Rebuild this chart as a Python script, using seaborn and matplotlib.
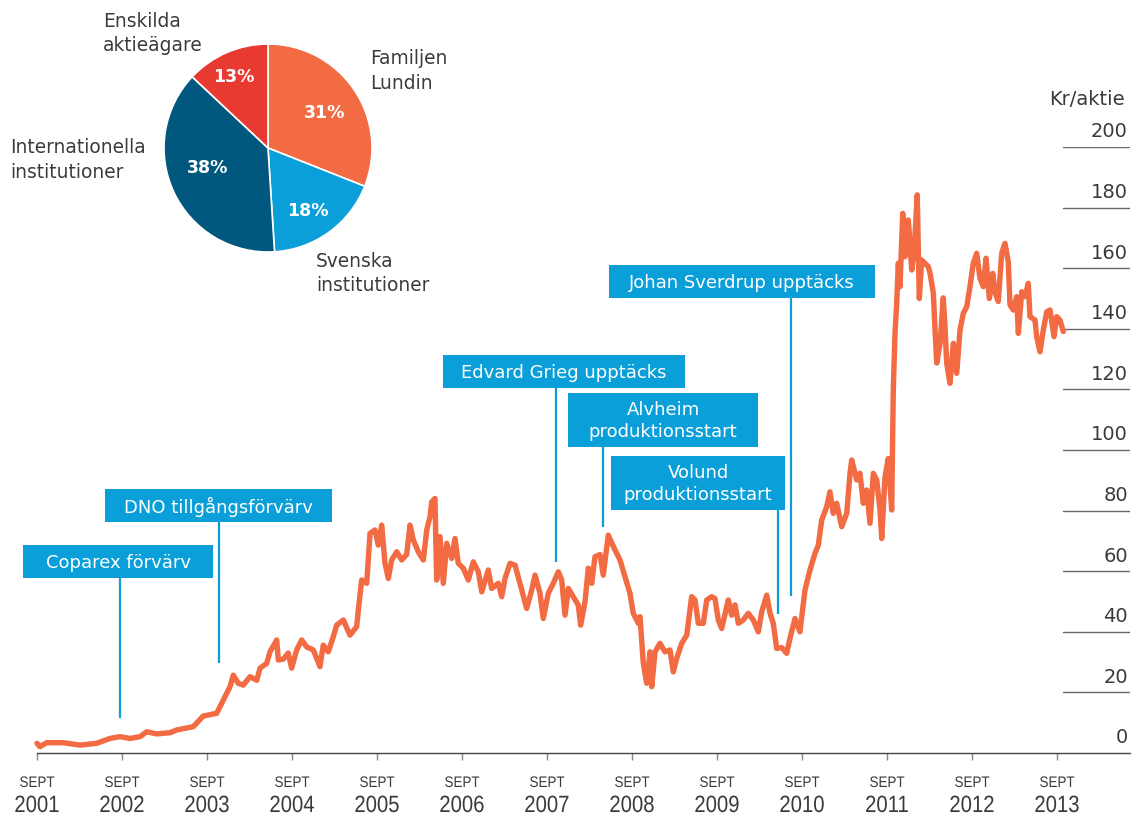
import matplotlib
matplotlib.use("Agg")
import matplotlib.pyplot as plt
import seaborn as sns
import pandas as pd
from matplotlib.patches import Rectangle
from matplotlib.transforms import blended_transform_factory, Affine2D
from matplotlib.patheffects import AbstractPathEffect

# ---------------- data ----------------
dates = [
    2001.667, 2001.702, 2001.781, 2001.976, 2002.173, 2002.369, 2002.526, 2002.643, 2002.761, 2002.879,
    2002.958, 2003.075, 2003.232, 2003.311, 2003.506, 2003.623, 2003.781, 2003.859, 2003.938, 2003.976,
    2004.035, 2004.094, 2004.173, 2004.252, 2004.291, 2004.369, 2004.408, 2004.487, 2004.506, 2004.565,
    2004.623, 2004.663, 2004.722, 2004.781, 2004.840, 2004.918,
    2004.996, 2005.035, 2005.094, 2005.153, 2005.193, 2005.271, 2005.349, 2005.428, 2005.447, 2005.487,
    2005.546, 2005.585, 2005.643, 2005.682, 2005.722, 2005.761, 2005.800, 2005.840, 2005.899, 2005.958,
    2006.016, 2006.055, 2006.094, 2006.153, 2006.212, 2006.252, 2006.291, 2006.311, 2006.349, 2006.369,
    2006.408, 2006.447, 2006.487, 2006.546, 2006.585, 2006.623, 2006.682, 2006.741, 2006.800, 2006.859,
    2006.899, 2006.976, 2007.016, 2007.094, 2007.134, 2007.173, 2007.232, 2007.291, 2007.349, 2007.428,
    2007.487, 2007.526, 2007.585, 2007.623, 2007.682, 2007.741, 2007.800, 2007.840, 2007.879, 2007.918,
    2007.976, 2008.035, 2008.063, 2008.114, 2008.153, 2008.193, 2008.232, 2008.291,
    2008.329, 2008.388, 2008.467, 2008.526, 2008.585, 2008.643, 2008.682, 2008.741, 2008.761, 2008.800,
    2008.840, 2008.879, 2008.899, 2008.938, 2008.996, 2009.055, 2009.114, 2009.153, 2009.193, 2009.252,
    2009.311, 2009.369, 2009.408, 2009.447, 2009.506, 2009.546, 2009.605, 2009.643, 2009.682, 2009.722,
    2009.800, 2009.840, 2009.879, 2009.918, 2009.976, 2010.035, 2010.094, 2010.153, 2010.193, 2010.252,
    2010.291, 2010.329, 2010.369, 2010.428, 2010.487, 2010.526, 2010.585, 2010.643, 2010.702, 2010.761,
    2010.820, 2010.859, 2010.899, 2010.958, 2010.996, 2011.035, 2011.075, 2011.134, 2011.193, 2011.232,
    2011.252, 2011.311,
    2011.349, 2011.388, 2011.428, 2011.467, 2011.506, 2011.546, 2011.585, 2011.605, 2011.643, 2011.682,
    2011.722, 2011.741, 2011.761, 2011.781, 2011.800, 2011.820, 2011.852, 2011.879, 2011.918, 2011.958,
    2011.985, 2012.023, 2012.047, 2012.075, 2012.114, 2012.153,
    2012.173, 2012.212, 2012.232, 2012.252, 2012.291, 2012.329, 2012.349, 2012.369, 2012.408, 2012.447,
    2012.487, 2012.526, 2012.565, 2012.605, 2012.643, 2012.682, 2012.722, 2012.761, 2012.800, 2012.832,
    2012.871, 2012.911, 2012.938, 2012.976, 2013.016, 2013.055, 2013.094, 2013.114, 2013.153, 2013.193,
    2013.212, 2013.252, 2013.291, 2013.329, 2013.349, 2013.408, 2013.428, 2013.467, 2013.506, 2013.546,
    2013.585, 2013.632, 2013.663, 2013.702, 2013.741,
]
prices = [
    3.2, 2.1, 3.4, 3.4, 2.6, 3.2, 4.8, 5.4, 4.8, 5.4,
    7.0, 6.3, 6.7, 7.6, 8.7, 12.2, 13.1, 17.5, 21.9, 25.7,
    23.0, 22.4, 25.2, 24.0, 28.0, 29.6, 33.4, 37.3, 30.7, 31.0,
    33.0, 28.0, 34.0, 37.3, 35.0, 34.0,
    28.5, 35.6, 33.4, 38.4, 42.2, 43.9, 38.9, 41.7, 47.2, 57.1,
    56.0, 72.5, 73.6, 68.6, 75.2, 62.6, 57.6, 63.7, 66.4, 63.7,
    65.5, 75.2, 70.3, 66.4, 63.7, 73.6, 78.0, 82.9, 84.0, 57.1,
    71.4, 56.0, 69.2, 64.2, 70.8, 62.6, 61.0, 57.1, 63.1, 59.8,
    53.2, 60.4, 54.3, 56.0, 51.6, 57.6, 62.6, 62.0, 56.0, 47.7,
    53.8, 58.7, 52.7, 44.4, 52.7, 56.0, 59.8, 57.1, 45.5, 54.3,
    51.6, 48.8, 42.2, 49.9, 61.0, 56.0, 64.8, 65.5,
    58.7, 71.9, 67.0, 63.7, 58.2, 52.7, 46.1, 42.8, 45.0, 29.6,
    23.0, 33.4, 21.9, 33.4, 36.2, 33.4, 34.0, 26.8, 31.2, 36.2,
    38.9, 51.6, 50.5, 42.8, 42.8, 50.5, 51.6, 51.0, 43.9, 41.1,
    50.5, 45.5, 48.9, 42.8, 43.9, 46.1, 43.9, 40.0, 46.6, 52.1,
    46.1, 42.8, 34.5, 34.8, 32.9, 37.9, 44.4, 40.0, 53.8, 60.4,
    65.9, 68.6, 76.9, 81.3, 86.2, 79.1, 82.4, 74.7, 79.1, 92.3,
    96.7, 90.1,
    92.3, 82.4, 86.8, 75.8, 92.3, 90.1, 80.2, 70.8, 91.0, 97.2,
    80.2, 119.8, 138.5, 148.4, 161.6, 153.9, 178.1, 163.8, 175.9, 159.4,
    165.0, 184.2, 150.0, 162.7, 161.6, 160.5,
    158.4, 151.8, 139.6, 128.7, 135.0, 150.2, 141.0, 128.7, 122.0, 135.2,
    125.3, 139.6, 145.1, 147.3, 153.9, 161.6, 164.9, 156.7, 153.9, 163.3,
    150.0, 158.3, 152.0, 149.0, 164.9, 168.2, 162.0, 147.9, 146.2, 150.6,
    138.5, 152.2, 150.6, 155.0, 144.0, 142.9, 137.4, 132.4, 139.6, 145.6,
    146.2, 137.4, 144.0, 142.9, 139.1,
]

owner_labels = ["Familjen\nLundin", "Svenska\ninstitutioner",
                "Internationella\ninstitutioner", "Enskilda\naktieägare"]
owner_shares = [31, 18, 38, 13]

event_labels = ["Coparex förvärv", "DNO tillgångsförvärv", "Edvard Grieg upptäcks",
                "Alvheim\nproduktionsstart", "Volund\nproduktionsstart", "Johan Sverdrup upptäcks"]
event_dates = [2002.643, 2003.808, 2007.773, 2008.326, 2010.385, 2010.538]
event_levels = [11.6, 29.7, 63.0, 74.6, 45.9, 51.8]

tick_years = list(range(2001, 2014))
y_ticks = list(range(0, 201, 20))
y_unit = "Kr/aktie"

# ---------------- style / layout ----------------
ORANGE = "#f26b43"
BLUE = "#0a9fd8"
DARKBLUE = "#00587f"
RED = "#e93a31"
TXT = "#3a3a3a"
GRID = "#6a6a6a"


class HScale(AbstractPathEffect):
    """Condense glyphs horizontally around their own centre."""
    def __init__(self, sx):
        super().__init__()
        self.sx = sx

    def draw_path(self, renderer, gc, tpath, affine, rgbFace=None):
        v = tpath.vertices
        cx = (v[:, 0].min() + v[:, 0].max()) / 2 if len(v) else 0.0
        t = Affine2D().translate(-cx, 0).scale(self.sx, 1).translate(cx, 0) + affine
        renderer.draw_path(gc, tpath, t, rgbFace)


sns.set_theme(style="white")
plt.rcParams["font.family"] = ["DejaVu Sans"]

W, H = 1133, 818
fig = plt.figure(figsize=(W / 100, H / 100), dpi=100)
fig.patch.set_facecolor("white")

# main axes: pixel x 20..1130, pixel y 753 (0) .. 147 (200)
ax = fig.add_axes([20 / W, (H - 753) / H, 1110 / W, 606 / H])
ax.set_facecolor("none")
df = pd.DataFrame({"date": dates, "price": prices})
sns.lineplot(data=df, x="date", y="price", ax=ax, color=ORANGE, linewidth=3.9,
             estimator=None, sort=False, zorder=3)
ln = ax.lines[0]
ln.set_solid_joinstyle("round")
ln.set_solid_capstyle("round")

x0 = 2001.667
ax.set_xlim(x0 - 0.2, x0 - 0.2 + 1110 / 85)
ax.set_ylim(0, 200)
ax.set_xlabel("")
ax.set_ylabel("")
for s in ["top", "right", "left"]:
    ax.spines[s].set_visible(False)
ax.spines["bottom"].set_color("#444444")
ax.spines["bottom"].set_linewidth(1.0)
ax.spines["bottom"].set_bounds(x0, ax.get_xlim()[1])

sept_pos = [y + 0.667 for y in tick_years]
ax.set_xticks(sept_pos)
ax.set_xticklabels([])
ax.set_yticks([])
ax.tick_params(axis="x", direction="out", length=5, width=1, color="#888888", bottom=True)

tx = blended_transform_factory(ax.transData, ax.transAxes)
for yr, pos in zip(tick_years, sept_pos):
    ax.text(pos, -0.0495, "SEPT", transform=tx, ha="center", va="center",
            fontsize=11, family="Liberation Sans", color=TXT, path_effects=[HScale(0.88)])
    ax.text(pos, -0.0875, str(yr), transform=tx, ha="center", va="center",
            fontsize=17, family="Liberation Sans", color=TXT, path_effects=[HScale(0.86)])

ty = blended_transform_factory(ax.transAxes, ax.transData)
gx0 = (1063 - 20) / 1110
for v in y_ticks:
    if v > 0:
        ax.axhline(v, xmin=gx0, xmax=1.0, color=GRID, lw=1.0, zorder=1)
    ax.text((1128 - 20) / 1110, v + 5, str(v), transform=ty, ha="right", va="center",
            fontsize=14, color=TXT, clip_on=False)
ax.text((1125 - 20) / 1110, 215.8, y_unit, transform=ty, ha="right", va="center",
        fontsize=14, color=TXT, clip_on=False)

# ---------------- event annotations ----------------
event_boxes = [(23, 545, 213, 578), (105, 489, 332, 522), (443, 355, 685, 388),
               (568, 393, 758, 447), (611, 456, 785, 510), (609, 265, 875, 298)]
inv = ax.transData.inverted()
tops = [inv.transform((0, H - b[3]))[1] for b in event_boxes]
ax.vlines(event_dates, event_levels, tops, color=BLUE, lw=1.6, zorder=2)

ov = fig.add_axes([0, 0, 1, 1])
ov.set_xlim(0, W)
ov.set_ylim(H, 0)
ov.set_facecolor("none")
ov.axis("off")
for (bx0, by0, bx1, by1), lab in zip(event_boxes, event_labels):
    ov.add_patch(Rectangle((bx0, by0), bx1 - bx0, by1 - by0, facecolor=BLUE, edgecolor="none"))
    ov.text((bx0 + bx1) / 2, (by0 + by1) / 2 + 1, lab, ha="center", va="center",
            fontsize=13, color="white", linespacing=1.35)

# ---------------- pie ----------------
cx, cy, r = 268, 148, 104
half = r * 1.02
pax = fig.add_axes([(cx - half) / W, (H - cy - half) / H, 2 * half / W, 2 * half / H])
wedges, _, autotexts = pax.pie(
    owner_shares, colors=[ORANGE, BLUE, DARKBLUE, RED], startangle=90, counterclock=False,
    wedgeprops=dict(edgecolor="white", linewidth=1.2),
    autopct="%d%%", pctdistance=0.68,
    textprops=dict(color="white", fontsize=12.5, fontweight="bold"))
pct_pos = [(0.548, 0.337), (0.385, -0.606), (-0.577, -0.192), (-0.327, 0.683)]
for t, p in zip(autotexts, pct_pos):
    t.set_position(p)
pax.set_xlim(-1.02, 1.02)
pax.set_ylim(-1.02, 1.02)
pax.set_aspect("equal")

label_pos = [(370, 71), (316, 273.5), (10, 160), (103, 33.5)]
for (lx, ly), lab in zip(label_pos, owner_labels):
    ov.text(lx, ly, lab, ha="left", va="center", fontsize=13.4, color=TXT, linespacing=1.38)

fig.savefig("out.png", dpi=100, facecolor="white")
